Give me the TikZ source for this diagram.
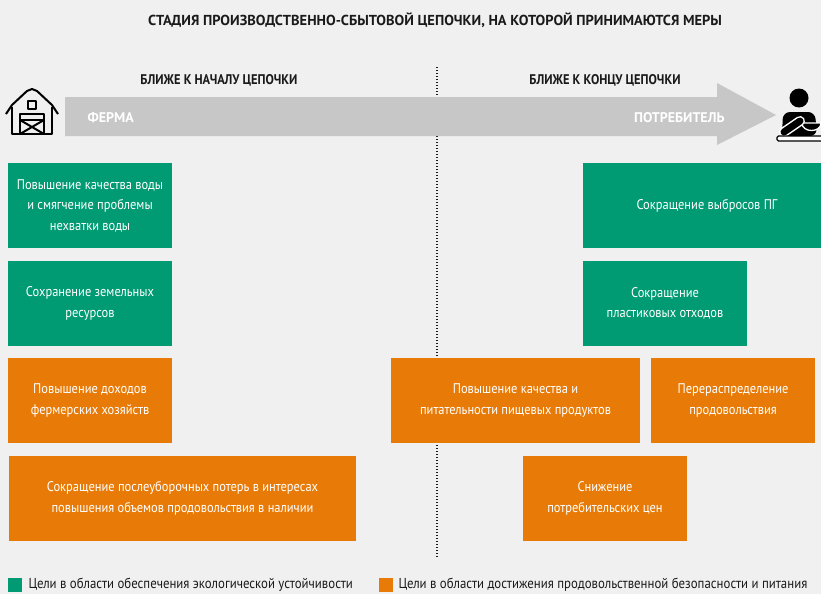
\documentclass[tikz,border=0pt]{standalone}
\usepackage{fontspec}
\setmainfont{PT Sans}[FakeStretch=0.89]
\newfontfamily\widefont{PT Sans}
\definecolor{bg}{HTML}{F0F0F0}
\definecolor{ecogreen}{HTML}{009A73}
\definecolor{foodorange}{HTML}{E87B08}
\definecolor{band}{HTML}{C7C7C7}
\definecolor{ink}{HTML}{1A1A1A}
\begin{document}
\begin{tikzpicture}[x=1pt,y=-1pt,
  box/.style={minimum height=85pt, inner sep=0pt, align=center, text=white,
    font=\fontsize{14}{20.5}\selectfont},
  eco/.style={box, fill=ecogreen},
  food/.style={box, fill=foodorange},
  head/.style={text=ink, font=\bfseries\fontsize{14}{16}\selectfont},
  titletxt/.style={text=ink, font=\widefont\bfseries\fontsize{14.45}{16}\selectfont},
  bandlabel/.style={text=white, font=\widefont\bfseries\fontsize{14}{16}\selectfont},
  legendtxt/.style={text=ink, anchor=west, font=\fontsize{14.4}{16}\selectfont},
  icon/.style={line width=2pt, line join=round}]
\useasboundingbox (0,0) rectangle (821,594);
\fill[bg] (0,0) rectangle (821,594);
\clip (0,0) rectangle (821,594);

% title
\node[titletxt] (title) at (435,20) {СТАДИЯ ПРОИЗВОДСТВЕННО-СБЫТОВОЙ ЦЕПОЧКИ, НА КОТОРОЙ ПРИНИМАЮТСЯ МЕРЫ};
\node[head] (start) at (219,80) {БЛИЖЕ К НАЧАЛУ ЦЕПОЧКИ};
\node[head] (end) at (605,80) {БЛИЖЕ К КОНЦУ ЦЕПОЧКИ};

% divider
\coordinate (divtop) at (437,67);
\coordinate (divbot) at (437,558);
\draw[ink, line width=1.2pt, dash pattern=on 1.2pt off 1.8pt] (divtop) -- (divbot);

% chain arrow
\fill[band] (65,97) -- (717,97) -- (717,83) -- (776,115) -- (717,145) -- (717,136) -- (65,136) -- cycle;
\node[bandlabel, anchor=west] (farm) at (84,117.5) {ФЕРМА};
\node[bandlabel, anchor=east] (consumer) at (728,117.5) {ПОТРЕБИТЕЛЬ};

% barn icon
\draw[icon] (6,114) -- (12,105) -- (27,91) -- (32,89) -- (37,91) -- (52,105) -- (58,114);
\draw[icon] (12,107) -- (12,134) -- (52,134) -- (52,107);
\draw[icon] (28,101) rectangle (36,109);
\draw[icon] (20,134) -- (20,113.5) -- (44,113.5) -- (44,134);
\draw[icon] (20,120) -- (44,120);
\draw[icon] (20,120) -- (44,134) (44,120) -- (20,134);

% consumer icon
\fill[black] (799,98) circle (9.5pt);
\fill[black, rounded corners=7pt] (782,136) -- (783,112) -- (815,112) -- (817,136) -- cycle;
\draw[white, line width=1.3pt, fill=black] (802,123) -- (821,123) .. controls (821,133) and (802,133) .. cycle;
\draw[white, line width=10pt, line cap=round] (784,132) -- (800,121);
\draw[black, line width=7pt, line cap=round] (784,132) -- (800,121);
\draw[black, line width=1.3pt, fill=white, rounded corners=1.5pt] (777,136) rectangle (826,141);

% environmental goals
\node[eco, minimum width=164pt] (water) at (90,205.5) {Повышение качества воды\\и смягчение проблемы\\нехватки воды};
\node[eco, minimum width=164pt] (land) at (90,303.5) {Сохранение земельных\\ресурсов};
\node[eco, minimum width=248pt] (ghg) at (707,205.5) {Сокращение выбросов ПГ};
\node[eco, minimum width=164pt] (plastic) at (665,303.5) {Сокращение\\пластиковых отходов};

% food security goals
\node[food, minimum width=164pt] (income) at (90,400.5) {Повышение доходов\\фермерских хозяйств};
\node[food, minimum width=347pt] (loss) at (182.5,498.5) {Сокращение послеуборочных потерь в интересах\\повышения объемов продовольствия в наличии};
\node[food, minimum width=249pt] (quality) at (515.5,400.5) {Повышение качества и\\питательности пищевых продуктов};
\node[food, minimum width=164pt] (redist) at (733,400.5) {Перераспределение\\продовольствия};
\node[food, minimum width=164pt] (prices) at (605,498.5) {Снижение\\потребительских цен};

% legend
\node[fill=ecogreen, minimum size=14pt, inner sep=0pt] (lg1) at (15,585) {};
\node[legendtxt] (lt1) at (25,585) {Цели в области обеспечения экологической устойчивости};
\node[fill=foodorange, minimum size=14pt, inner sep=0pt] (lg2) at (386,585) {};
\node[legendtxt] (lt2) at (395,585) {Цели в области достижения продовольственной безопасности и питания};
\end{tikzpicture}
\end{document}
